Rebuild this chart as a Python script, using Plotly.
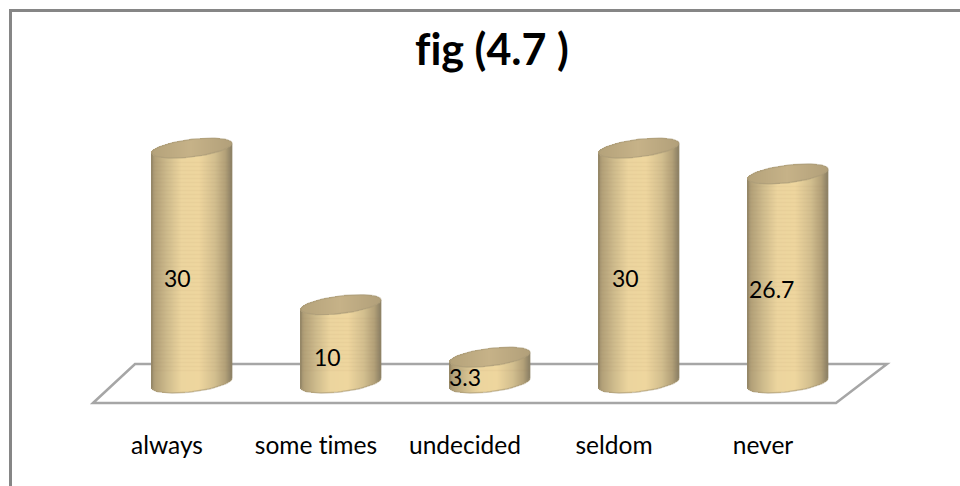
import math
import plotly.graph_objects as go

# Survey responses, percent per category
categories = ["always", 'some t<span style="font-size:24.6px">imes</span>', "undecided", "seldom", "never"]
values = [30, 10, 3.3, 30, 26.7]
value_labels = ["30", "10", "3.3", "30", "26.7"]
title_text = 'f<span style="font-size:43.1px">ig</span> (4.7 )'

# Canvas geometry in pixels
W, H = 960, 486
CENTER0 = 192.0
SPACING = 149.0
BASE_PX = 383.0
PX_PER_UNIT = 7.83
RADIUS_PX = 40.0
TILT_PX = 4.7
DEPTH_PX = 8.8
STRIP_PX = 1.0
BAND_PX = 4.0

# Offsets of the value labels from the middle of each column
label_dx = [-15, -14, -25, -14, -17]
label_dy = [-12, -13, -7, -12, -11]
tick_shift_px = -25

x_unit = 1 / SPACING
y_unit = 1 / PX_PER_UNIT


def mix(stops, t):
    for (a, ca), (b, cb) in zip(stops, stops[1:]):
        if t <= b:
            f = (t - a) / (b - a)
            return tuple(p + (q - p) * f for p, q in zip(ca, cb))
    return stops[-1][1]


def rgb(c):
    return "rgb(%d,%d,%d)" % tuple(round(v) for v in c)


BODY_STOPS = [
    (0.0, (150, 136, 104)),
    (0.05, (178, 160, 120)),
    (0.2, (206, 187, 140)),
    (0.38, (236, 213, 158)),
    (0.6, (238, 214, 158)),
    (0.8, (210, 190, 142)),
    (0.93, (178, 160, 120)),
    (1.0, (142, 130, 102)),
]
CAP_STOPS = [
    (0.0, (180, 162, 122)),
    (0.5, (198, 178, 136)),
    (1.0, (178, 160, 122)),
]

strip_x, strip_base, strip_h, strip_color = [], [], [], []
cap_x, cap_base, cap_h, cap_color = [], [], [], []
rim_x, rim_y = [], []
edge_x, edge_y = [], []
band_x, band_y = [], []
n_strips = int(2 * RADIUS_PX / STRIP_PX)
n_rim = 72


def rim_point(i, v, t):
    """Point on the tilted elliptical rim of a column at height v."""
    c, s = math.cos(t), math.sin(t)
    return i + c * RADIUS_PX * x_unit, v + (TILT_PX * c + DEPTH_PX * s) * y_unit


for i, v in enumerate(values):
    for s in range(n_strips):
        u = (s + 0.5) / n_strips * 2 - 1
        root = math.sqrt(1 - u * u)
        lean = TILT_PX * u * y_unit
        front = lean - DEPTH_PX * root * y_unit
        back = lean + DEPTH_PX * root * y_unit
        px = i + u * RADIUS_PX * x_unit
        strip_x.append(px)
        strip_base.append(front)
        strip_h.append(v)
        strip_color.append(rgb(mix(BODY_STOPS, (u + 1) / 2)))
        cap_x.append(px)
        cap_base.append(v + front)
        cap_h.append(back - front)
        cap_color.append(rgb(mix(CAP_STOPS, (u + 1) / 2)))

    # Top rim, full loop
    for k in range(n_rim + 1):
        a, b = rim_point(i, v, 2 * math.pi * k / n_rim)
        rim_x.append(a)
        rim_y.append(b)
    rim_x.append(None)
    rim_y.append(None)
    # Bottom rim, front half only
    for k in range(n_rim // 2 + 1):
        a, b = rim_point(i, 0, math.pi + math.pi * k / (n_rim // 2))
        rim_x.append(a)
        rim_y.append(b)
    rim_x.append(None)
    rim_y.append(None)

    # Column side edges
    for side in (-1, 1):
        lean = side * TILT_PX * y_unit
        edge_x += [i + side * RADIUS_PX * x_unit, i + side * RADIUS_PX * x_unit, None]
        edge_y += [lean, v + lean, None]

    # Fine horizontal ribbing on the column wall
    level = 1.6
    while level < v - 1.6:
        band_x += [i - RADIUS_PX * x_unit, i + RADIUS_PX * x_unit, None]
        band_y += [level, level, None]
        level += BAND_PX * y_unit

strip_w = STRIP_PX * x_unit * 1.02

fig = go.Figure()
fig.add_bar(
    x=strip_x, y=strip_h, base=strip_base, width=strip_w,
    marker=dict(color=strip_color, line_width=0), hoverinfo="skip", showlegend=False,
)
fig.add_scatter(
    x=band_x, y=band_y, mode="lines", line=dict(color="rgba(150,125,80,0.06)", width=1.5),
    hoverinfo="skip", showlegend=False,
)
fig.add_bar(
    x=cap_x, y=cap_h, base=cap_base, width=strip_w,
    marker=dict(color=cap_color, line_width=0), hoverinfo="skip", showlegend=False,
)
fig.add_scatter(
    x=edge_x, y=edge_y, mode="lines", line=dict(color="rgba(140,128,100,0.45)", width=1.5),
    hoverinfo="skip", showlegend=False,
)
fig.add_scatter(
    x=rim_x, y=rim_y, mode="lines", line=dict(color="rgba(170,155,120,0.6)", width=1.4),
    hoverinfo="skip", showlegend=False,
)


def px_x(p):
    return p / W


def px_y(p):
    return 1 - p / H


floor_path = "M {} {} L {} {} L {} {} L {} {} Z".format(
    px_x(93), px_y(403), px_x(135), px_y(364), px_x(887), px_y(364), px_x(836), px_y(403)
)

annotations = [
    dict(
        x=i, y=v / 2, text=t, showarrow=False, xshift=dx, yshift=dy,
        font=dict(family="Lato", size=23, color="#000000"),
    )
    for i, (v, t, dx, dy) in enumerate(zip(values, value_labels, label_dx, label_dy))
]
annotations.append(
    dict(
        xref="paper", yref="paper", x=px_x(492), y=px_y(48), yanchor="middle", xanchor="center",
        text="<b>%s</b>" % title_text,
        showarrow=False, font=dict(family="Lato", size=43, color="#000000"),
    )
)

fig.update_layout(
    width=W, height=H,
    margin=dict(l=0, r=0, t=0, b=0),
    paper_bgcolor="#ffffff", plot_bgcolor="rgba(0,0,0,0)",
    barmode="overlay", bargap=0,
    showlegend=False,
    annotations=annotations,
    shapes=[
        dict(type="path", path=floor_path, xref="paper", yref="paper", layer="below",
             line=dict(color="#a6a6a6", width=2.5)),
        dict(type="rect", xref="paper", yref="paper", layer="below",
             x0=px_x(10.5), y0=px_y(H + 5), x1=px_x(W + 5), y1=px_y(10.5),
             line=dict(color="#868686", width=3)),
    ],
    xaxis=dict(
        range=[-CENTER0 / SPACING, (W - CENTER0) / SPACING],
        tickvals=[i + tick_shift_px * x_unit for i in range(len(categories))],
        ticktext=categories,
        tickfont=dict(family="Lato", size=24.5, color="#000000"),
        showgrid=False, zeroline=False, showline=False, ticks="",
        anchor="free", position=px_y(428),
    ),
    yaxis=dict(
        range=[-(H - BASE_PX) / PX_PER_UNIT, BASE_PX / PX_PER_UNIT],
        visible=False,
    ),
)

fig.write_html("out.html")
